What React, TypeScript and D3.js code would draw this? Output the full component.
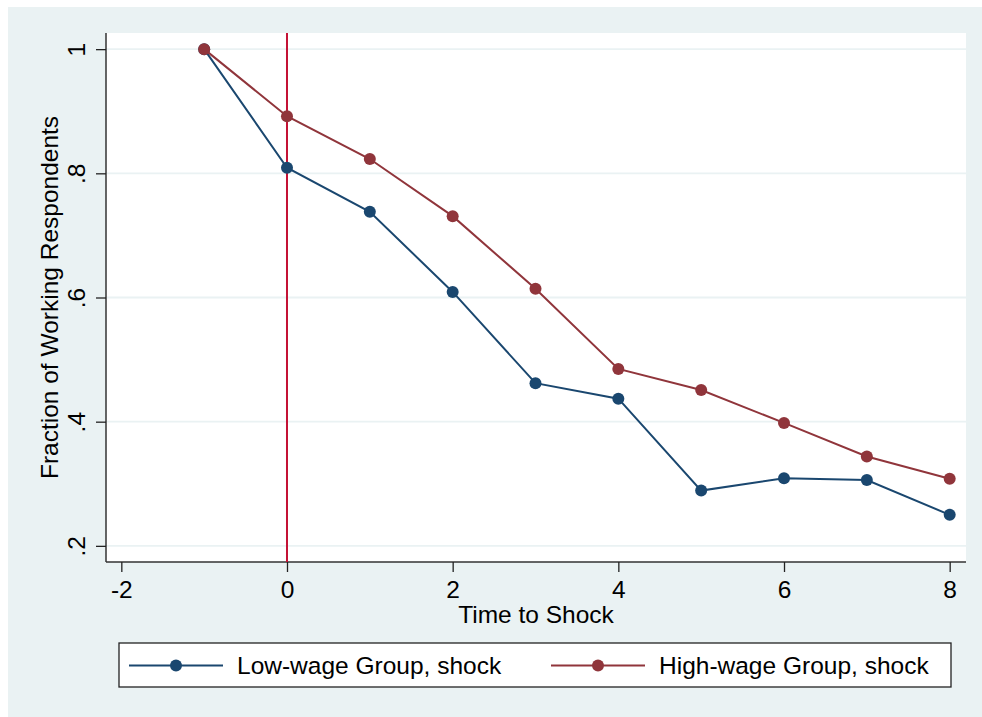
import { useEffect, useRef } from "react";
import * as d3 from "d3";

// time to shock, -1 .. 8
const periods = [-1, 0, 1, 2, 3, 4, 5, 6, 7, 8];
const lowWage = [1.0, 0.809, 0.738, 0.609, 0.462, 0.437, 0.289, 0.309, 0.306, 0.25];
const highWage = [1.0, 0.892, 0.823, 0.731, 0.614, 0.485, 0.451, 0.398, 0.344, 0.308];

const xTicks = [-2, 0, 2, 4, 6, 8];
const xTickLabels = ["-2", "0", "2", "4", "6", "8"];
const yTicks = [0.2, 0.4, 0.6, 0.8, 1];
const yTickLabels = [".2", ".4", ".6", ".8", "1"];

const seriesNames = ["Low-wage Group, shock", "High-wage Group, shock"];

const C_BG = "#eaf2f3";
const C_LOW = "#1a476f";
const C_HIGH = "#90353b";
const C_SHOCK = "#c41235";
const FONT = "'Liberation Sans', Arial, sans-serif";
const FS = 24.5;

export default function App() {
  const svgRef = useRef<SVGSVGElement>(null);

  useEffect(() => {
    const svg = d3.select(svgRef.current);
    svg.selectAll("*").remove();

    const width = 982, height = 717;
    const plot = { left: 106, top: 33, right: 966, bottom: 562 };

    const xScale = d3.scaleLinear().domain([-2.185, 8.197]).range([plot.left, plot.right]);
    const yScale = d3.scaleLinear().domain([0.174, 1.026]).range([plot.bottom, plot.top]);

    svg.attr("width", width).attr("height", height);

    // outer background
    svg.append("rect")
      .attr("x", 8).attr("y", 7).attr("width", width - 8).attr("height", height - 7)
      .attr("fill", C_BG);

    // plot region
    svg.append("rect")
      .attr("x", plot.left).attr("y", plot.top)
      .attr("width", plot.right - plot.left).attr("height", plot.bottom - plot.top)
      .attr("fill", "white");

    // grid
    svg.append("g").selectAll("line").data(yTicks).enter().append("line")
      .attr("x1", plot.left).attr("x2", plot.right)
      .attr("y1", d => yScale(d)).attr("y2", d => yScale(d))
      .attr("stroke", C_BG).attr("stroke-width", 1.8);

    // axes
    const yAxis = svg.append("g").attr("transform", `translate(${plot.left},0)`)
      .call(d3.axisLeft(yScale).tickValues(yTicks).tickSize(10).tickFormat((_d, i) => yTickLabels[i]));
    yAxis.select(".domain").attr("stroke", "#333").attr("stroke-width", 1.5)
      .attr("d", `M0,${plot.top}V${plot.bottom}`);
    yAxis.selectAll(".tick line").attr("stroke", "#222").attr("stroke-width", 1.3);
    yAxis.selectAll(".tick text")
      .attr("font-family", FONT).attr("font-size", FS).attr("fill", "#000")
      .attr("x", 0).attr("dy", 0)
      .attr("text-anchor", "middle")
      .attr("transform", "translate(-21,0) rotate(-90)");

    const xAxis = svg.append("g").attr("transform", `translate(0,${plot.bottom})`)
      .call(d3.axisBottom(xScale).tickValues(xTicks).tickSize(10).tickFormat((_d, i) => xTickLabels[i]));
    xAxis.select(".domain").attr("stroke", "#333").attr("stroke-width", 1.5)
      .attr("d", `M${plot.left},0H${plot.right}`);
    xAxis.selectAll(".tick line").attr("stroke", "#222").attr("stroke-width", 1.3);
    xAxis.selectAll(".tick text")
      .attr("font-family", FONT).attr("font-size", FS).attr("fill", "#000")
      .attr("y", 36).attr("dy", 0);

    // titles
    svg.append("text")
      .attr("transform", `translate(58,${(plot.top + plot.bottom) / 2}) rotate(-90)`)
      .attr("text-anchor", "middle")
      .attr("font-family", FONT).attr("font-size", FS)
      .text("Fraction of Working Respondents");

    svg.append("text")
      .attr("x", (plot.left + plot.right) / 2).attr("y", 623)
      .attr("text-anchor", "middle")
      .attr("font-family", FONT).attr("font-size", FS)
      .text("Time to Shock");

    // shock line at 0
    svg.append("line")
      .attr("x1", xScale(0)).attr("x2", xScale(0))
      .attr("y1", plot.top).attr("y2", plot.bottom)
      .attr("stroke", C_SHOCK).attr("stroke-width", 2);

    const line = d3.line<number>()
      .x((_d, i) => xScale(periods[i]))
      .y(d => yScale(d));

    const drawSeries = (vals: number[], color: string) => {
      svg.append("path").datum(vals)
        .attr("d", line).attr("fill", "none")
        .attr("stroke", color).attr("stroke-width", 2);
      svg.append("g").selectAll("circle").data(vals).enter().append("circle")
        .attr("cx", (_d, i) => xScale(periods[i]))
        .attr("cy", d => yScale(d))
        .attr("r", 6).attr("fill", color);
    };
    drawSeries(lowWage, C_LOW);
    drawSeries(highWage, C_HIGH);

    // legend
    const lg = svg.append("g");
    lg.append("rect")
      .attr("x", 119).attr("y", 643).attr("width", 832).attr("height", 44)
      .attr("fill", "white").attr("stroke", "#222").attr("stroke-width", 1.3);

    const items = [
      { name: seriesNames[0], color: C_LOW, x0: 129 },
      { name: seriesNames[1], color: C_HIGH, x0: 551 },
    ];
    items.forEach(it => {
      lg.append("line")
        .attr("x1", it.x0).attr("x2", it.x0 + 94)
        .attr("y1", 665.5).attr("y2", 665.5)
        .attr("stroke", it.color).attr("stroke-width", 2);
      lg.append("circle")
        .attr("cx", it.x0 + 47).attr("cy", 665.5).attr("r", 6).attr("fill", it.color);
      lg.append("text")
        .attr("x", it.x0 + 108).attr("y", 674)
        .attr("font-family", FONT).attr("font-size", FS)
        .text(it.name);
    });
  }, []);

  return (
    <svg ref={svgRef} style={{ position: "absolute", left: 0, top: 0, display: "block" }} />
  );
}
